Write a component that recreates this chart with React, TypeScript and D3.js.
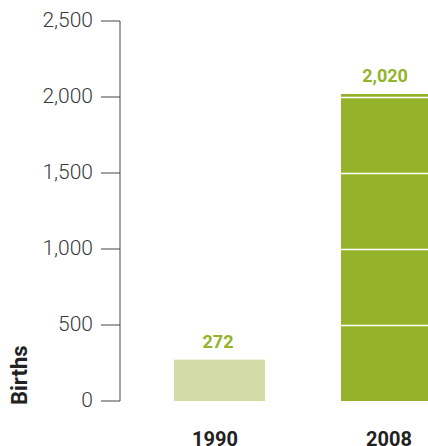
import React from "react";
import * as d3 from "d3";

const years = ["1990", "2008"];
const births = [272, 2020];
const yTicks = [0, 500, 1000, 1500, 2000, 2500];
const barColors = ["#d2dba6", "#95b22b"];

export default function App() {
  const W = 428, H = 446;
  const y = d3.scaleLinear().domain([0, 2500]).range([401, 21]);
  const x = d3.scaleBand().domain(years).range([174, 174 + 167 + 91]).paddingInner(76 / 167).paddingOuter(0);
  const fmt = d3.format(",");
  const axisX = 120;
  return (
    <svg width={W} height={H} style={{ position: "absolute", left: 0, top: 0, fontFamily: "Roboto, 'Liberation Sans', sans-serif" }}>
      {years.map((yr, i) => (
        <rect key={yr} x={x(yr)} y={y(births[i])} width={x.bandwidth()} height={y(0) - y(births[i])} fill={barColors[i]} />
      ))}
      {yTicks.filter(t => t > 0).map(t => (
        <line key={"g" + t} x1={axisX + 1} x2={W} y1={y(t) + 0.5} y2={y(t) + 0.5} stroke="#fff" strokeWidth={1.5} />
      ))}
      <line x1={axisX} x2={axisX} y1={y(2500)} y2={y(0)} stroke="#444" strokeWidth={1} />
      {yTicks.map(t => (
        <g key={t}>
          <line x1={101} x2={axisX} y1={y(t)} y2={y(t)} stroke="#444" strokeWidth={1} />
          <text x={93} y={y(t)} dy="0.3em" textAnchor="end" fontSize={21} fill="#3a3a3a" fontWeight={300}>{fmt(t)}</text>
        </g>
      ))}
      {years.map((yr, i) => (
        <text key={"v" + yr} x={(x(yr) as number) + x.bandwidth() / 2 - 1.5} y={y(births[i]) - 12} textAnchor="middle" fontSize={18} fontWeight={700} fill="#95b22b">{fmt(births[i])}</text>
      ))}
      {years.map((yr, i) => (
        <text key={"x" + yr} x={(x(yr) as number) + x.bandwidth() / 2 - (i === 0 ? 4.5 : -2.5)} y={446} textAnchor="middle" fontSize={20} fontWeight={700} fill="#222">{yr}</text>
      ))}
      <text transform="translate(27,405) rotate(-90)" fontSize={22} fontWeight={700} fill="#222">Births</text>
    </svg>
  );
}
